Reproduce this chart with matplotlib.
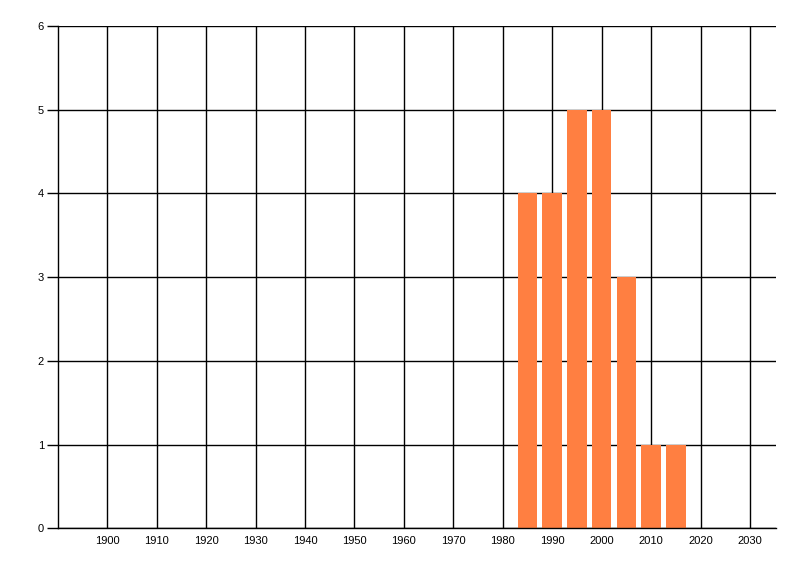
import matplotlib
matplotlib.use("Agg")
import matplotlib.pyplot as plt
import numpy as np

years = [1985, 1990, 1995, 2000, 2005, 2010, 2015]
counts = [4, 4, 5, 5, 3, 1, 1]
xticks = list(range(1900, 2031, 10))
yticks = [0, 1, 2, 3, 4, 5, 6]

fig = plt.figure(figsize=(8, 5.76), dpi=100)
ax = fig.add_axes([0.0722, 0.0828, 0.8974, 0.8721])

ax.bar(years, counts, width=3.95, color="#ff7f41", zorder=3)

ax.set_xlim(1890, 2035.2)
ax.set_ylim(0, 6)
ax.set_xticks(xticks)
ax.set_yticks(yticks)
ax.grid(True, color="black", linewidth=1.0, zorder=0)
ax.set_axisbelow(True)

for s in ["top", "right"]:
    ax.spines[s].set_visible(False)
for s in ["left", "bottom"]:
    ax.spines[s].set_linewidth(1.0)
    ax.spines[s].set_zorder(4)

ax.tick_params(axis="y", length=8, width=1.0, pad=2, labelsize=8)
ax.tick_params(axis="x", length=0, pad=5.5, labelsize=8)
for lbl in ax.get_xticklabels() + ax.get_yticklabels():
    lbl.set_fontfamily("Liberation Sans")

fig.savefig("out.png", dpi=100)
